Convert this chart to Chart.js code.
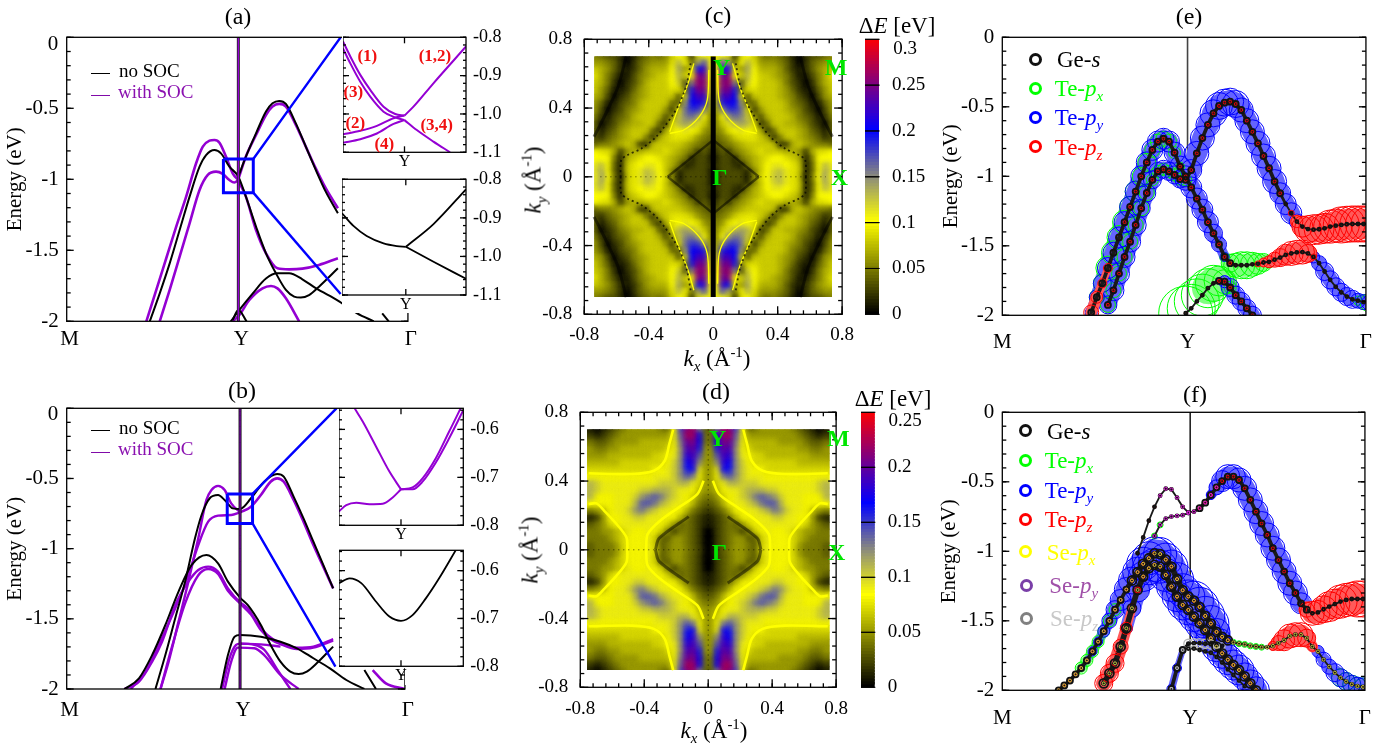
<!DOCTYPE html>
<html>
<head>
<meta charset="utf-8">
<title>Band structures</title>
<script src="https://cdn.jsdelivr.net/npm/chart.js@4/dist/chart.umd.min.js"></script>
<style>
  html, body { margin: 0; padding: 0; background: #fff; overflow: hidden; }
  #page { position: relative; width: 1387px; height: 748px; overflow: hidden; font-family: "Liberation Serif", serif; color: #000; }
  canvas { position: absolute; }
  .txt { position: absolute; white-space: nowrap; line-height: 1; }
  .txt sub, .txt sup { font-size: 65%; line-height: 0; }
  .cover { position: absolute; background: #fff; }
</style>
</head>
<body>
<div id="page"></div>
<script>
// ---------- tick labels ----------
const pathLabels = ["M", "Y", "Γ"];
const energyTicks = [0, -0.5, -1, -1.5, -2];
const aInsetTicks = [-0.8, -0.9, -1.0, -1.1];
const bInsetTicks = [-0.6, -0.7, -0.8];
const kTicks = [-0.8, -0.4, 0, 0.4, 0.8];
const cBarTicks = [0, 0.05, 0.1, 0.15, 0.2, 0.25, 0.3];
const dBarTicks = [0, 0.05, 0.1, 0.15, 0.2, 0.25];

// ---------- panel (a): [k, E], M=0, Y=1 ----------
const aNoSocUpper = [[.484,-2],[.542,-1.803],[.6,-1.592],[.658,-1.357],[.716,-1.122],[.774,-.911],[.812,-.829],[.861,-.793],[.899,-.817],[.948,-.911],[1,-.981],[1.044,-1.122],[1.103,-1.333],[1.161,-1.521],[1.219,-1.662],[1.277,-1.779],[1.325,-1.826],[1.364,-1.833],[1.412,-1.815],[1.47,-1.756],[1.58,-1.627]];
const aNoSocPeak = [[1,-.981],[1.044,-.84],[1.103,-.676],[1.161,-.523],[1.199,-.465],[1.238,-.448],[1.277,-.469],[1.335,-.606],[1.393,-.77],[1.451,-.934],[1.509,-1.087],[1.58,-1.239]];
const aNoSocLow = [[.956,-2],[1.006,-1.92],[1.083,-1.805],[1.161,-1.699],[1.228,-1.662],[1.296,-1.662],[1.373,-1.704],[1.451,-1.767],[1.58,-1.854],[1.692,-1.944],[1.789,-2]];
const aNoSocArc = [[.967,-1.99],[1,-1.92],[1.048,-2]];
const aNoSocEnd = [[1.838,-1.944],[1.876,-2]];
const aSocTop = [[.464,-2],[.522,-1.779],[.58,-1.556],[.638,-1.333],[.696,-1.122],[.754,-.887],[.793,-.77],[.832,-.728],[.861,-.723],[.89,-.742],[.928,-.84],[.967,-.958],[1,-1.005]];
const aSocSecond = [[.542,-2],[.6,-1.779],[.658,-1.545],[.716,-1.31],[.774,-1.075],[.822,-.969],[.87,-.946],[.909,-.962],[.948,-1.005],[.977,-1.023],[1,-1.005]];
const aSocPeak = [[1,-1],[1.044,-.84],[1.103,-.688],[1.161,-.547],[1.199,-.488],[1.238,-.469],[1.277,-.488],[1.335,-.617],[1.393,-.77],[1.451,-.923],[1.509,-1.063],[1.58,-1.204]];
const aSocDown = [[1,-1.01],[1.044,-1.122],[1.103,-1.357],[1.161,-1.521],[1.228,-1.627],[1.296,-1.634],[1.373,-1.629],[1.47,-1.603],[1.58,-1.556]];
const aSocLow = [[.967,-2],[1.006,-1.955],[1.064,-1.85],[1.141,-1.768],[1.19,-1.751],[1.228,-1.768],[1.277,-1.838],[1.354,-2]];
const aZoomBox = [[.913,-.857],[1.087,-.857],[1.087,-1.094],[.913,-1.094],[.913,-.857]];
const aZoomUp = [[1.087,-.857],[1.596,0]];
const aZoomDown = [[1.087,-1.094],[1.596,-1.808]];
// insets of (a): t=0 at Y
const aInsetS1 = [[-1,-.811],[-.881,-.85],[-.719,-.898],[-.557,-.937],[-.341,-.981],[-.151,-1],[0,-1.004]];
const aInsetS3 = [[-1,-.829],[-.881,-.868],[-.719,-.916],[-.557,-.955],[-.341,-.994],[-.151,-1.009],[0,-1.016]];
const aInsetS2 = [[-1,-1.053],[-.719,-1.044],[-.449,-1.031],[-.178,-1.011],[0,-1.004]];
const aInsetS4 = [[-1,-1.075],[-.719,-1.066],[-.449,-1.051],[-.178,-1.026],[0,-1.016]];
const aInsetS12 = [[0,-1.004],[.146,-.981],[.47,-.92],[1,-.824]];
const aInsetS34 = [[0,-1.016],[.2,-1.042],[.47,-1.072],[.741,-1.1]];
const aInsetN1 = [[-1.06,-.888],[-.87,-.921],[-.65,-.947],[-.37,-.966],[-.15,-.973],[0,-.975]];
const aInsetN2 = [[0,-.975],[.46,-.916],[1,-.826]];
const aInsetN3 = [[0,-.975],[.46,-1.014],[1,-1.058]];

// ---------- panel (b) ----------
const bNoSocUpper = [[.512,-2],[.569,-1.758],[.626,-1.496],[.683,-1.235],[.74,-.926],[.778,-.76],[.825,-.641],[.873,-.618],[.911,-.653],[.958,-.713],[1,-.717],[1.063,-.641],[1.139,-.523],[1.214,-.468],[1.252,-.487],[1.309,-.629],[1.366,-.784],[1.423,-.95],[1.48,-1.116],[1.537,-1.283]];
const bNoSocMid = [[.332,-2],[.417,-1.924],[.493,-1.758],[.569,-1.544],[.645,-1.306],[.721,-1.116],[.806,-1.045],[.873,-1.105],[.93,-1.235],[1,-1.349],[1.044,-1.401],[1.12,-1.544],[1.176,-1.686],[1.233,-1.805],[1.29,-1.876],[1.338,-1.893],[1.385,-1.876],[1.442,-1.817],[1.537,-1.698]];
const bNoSocLow = [[.888,-2],[.93,-1.758],[.968,-1.627],[1,-1.615],[1.12,-1.627],[1.233,-1.663],[1.328,-1.71],[1.423,-1.781],[1.518,-1.853],[1.613,-1.936],[1.717,-2]];
const bNoSocEnd = [[1.717,-1.865],[1.784,-2]];
const bSocTop = [[.541,-2],[.588,-1.805],[.645,-1.52],[.702,-1.235],[.759,-.926],[.806,-.653],[.835,-.582],[.873,-.553],[.911,-.582],[.949,-.677],[1,-.741]];
const bSocPlateau = [[.37,-2],[.455,-1.876],[.531,-1.686],[.626,-1.425],[.702,-1.188],[.759,-.974],[.816,-.808],[.873,-.765],[.949,-.76],[1,-.741]];
const bSocPeak = [[1,-.741],[1.063,-.701],[1.12,-.618],[1.176,-.523],[1.214,-.499],[1.252,-.523],[1.309,-.653],[1.366,-.808],[1.423,-.974],[1.48,-1.128],[1.537,-1.283]];
const bSocMid1 = [[.332,-2],[.417,-1.948],[.493,-1.805],[.55,-1.663],[.626,-1.401],[.702,-1.235],[.759,-1.152],[.816,-1.128],[.873,-1.164],[.93,-1.283],[1,-1.382],[1.044,-1.425],[1.101,-1.532],[1.157,-1.615],[1.233,-1.675],[1.328,-1.705],[1.423,-1.698],[1.537,-1.644]];
const bSocMid2 = [[.541,-2],[.607,-1.7],[.683,-1.39],[.759,-1.19],[.816,-1.145],[.873,-1.18],[.93,-1.3],[1,-1.39],[1.063,-1.47],[1.12,-1.58],[1.176,-1.645],[1.233,-1.68],[1.328,-1.715],[1.423,-1.705],[1.537,-1.655]];
const bSocLow1 = [[.896,-2],[.939,-1.781],[.977,-1.686],[1,-1.677],[1.082,-1.685],[1.139,-1.72],[1.214,-1.86],[1.29,-2]];
const bSocLow2 = [[.911,-2],[.949,-1.805],[.987,-1.705],[1.082,-1.71],[1.139,-1.758],[1.233,-1.9],[1.338,-2]];
const bSocFlat = [[1,-1.677],[1.12,-1.682],[1.233,-1.698]];
const bSocEnd = [[1.765,-1.865],[1.841,-1.96],[1.951,-2]];
const bZoomBox = [[.926,-.61],[1.072,-.61],[1.072,-.82],[.926,-.82],[.926,-.61]];
const bZoomUp = [[1.072,-.61],[1.556,0]];
const bZoomDown = [[1.072,-.82],[1.55,-1.841]];
const bInsetS1 = [[-.745,-.556],[-.612,-.584],[-.399,-.636],[-.186,-.688],[0,-.725]];
const bInsetS2 = [[-.995,-.771],[-.878,-.758],[-.718,-.753],[-.505,-.756],[-.293,-.755],[-.133,-.742],[0,-.725]];
const bInsetS3 = [[0,-.725],[.186,-.721],[.346,-.702],[.559,-.66],[.771,-.605],[.931,-.563],[.97,-.552]];
const bInsetS4 = [[0,-.725],[.186,-.725],[.346,-.709],[.559,-.669],[.771,-.619],[1,-.56]];
const bInsetN = [[-.995,-.626],[-.824,-.616],[-.638,-.626],[-.399,-.665],[-.186,-.696],[0,-.705],[.186,-.693],[.399,-.658],[.612,-.616],[.878,-.5575]];

// ---------- panels (c) and (d): gap in 0.01 eV, first quadrant, top row first ----------
const cKx = [.02,.06,.10,.14,.18,.22,.26,.30,.34,.38,.42,.46,.50,.54,.58,.62,.66,.70,.74];
const cKy = [.70,.66,.62,.58,.54,.50,.46,.42,.38,.34,.30,.26,.22,.18,.14,.10,.06,.02];
const cGap = [
  [9,10,9,1,9,10,8,5,4,5,4,3,1,0,2,3,3,4,5],
  [10,17,13,4,10,13,9,6,6,6,5,4,2,0,2,4,5,6,6],
  [10,22,20,9,6,14,10,7,7,7,6,4,2,1,2,4,6,7,8],
  [10,24,25,10,8,13,10,8,8,7,6,5,3,1,1,3,5,7,9],
  [9,25,26,15,3,12,10,8,8,8,7,5,3,2,0,2,5,7,8],
  [9,24,25,19,5,9,9,8,8,8,7,6,4,2,1,1,4,6,8],
  [8,22,23,20,9,3,8,8,8,8,7,6,5,3,2,0,3,6,7],
  [7,19,21,20,14,4,4,8,8,8,8,7,5,4,3,1,1,4,6],
  [6,14,18,18,16,9,2,6,8,8,8,7,6,5,3,2,0,3,6],
  [5,10,14,16,15,12,6,3,7,8,8,8,7,5,4,3,1,2,5],
  [5,8,11,13,14,13,9,2,4,8,8,7,7,6,5,3,2,0,4],
  [5,6,9,10,11,10,9,7,2,4,8,8,8,7,6,4,3,1,4],
  [4,5,6,8,9,9,9,8,7,2,5,8,8,7,6,5,4,2,3],
  [3,4,5,6,7,8,8,8,8,8,2,2,7,8,7,6,5,5,4],
  [2,4,2,5,6,7,8,9,8,8,8,7,7,6,2,7,9,9,10],
  [1,3,3,1,5,6,7,8,9,10,10,9,8,7,1,5,10,10,10],
  [2,3,3,2,1,5,7,8,10,11,11,10,9,8,1,4,10,13,11],
  [1,3,3,3,3,1,5,8,10,12,13,11,9,8,1,4,10,14,11]
];
const cNodalArc = [[.14,.66],[.163,.544],[.183,.486],[.206,.431],[.251,.36],[.3,.295],[.358,.229],[.445,.165],[.533,.126],[.571,.097],[.575,0]];
const cNodalOuter = [[.54,.70],[.59,.525],[.66,.38],[.708,.29],[.74,.233]];
const cDiamond = [[0,.214],[.283,0]];
const cBlobEdgeRight = [[.12,.66],[.163,.525],[.222,.389],[.27,.262]];
const cBlobEdgeLeft = [[.27,.253],[.183,.272],[.086,.35],[.037,.447],[.027,.622]];
const dGap = [
  [3,13,22,21,15,8,3,4,5,5,5,5,5,4,3,2,1,0,1],
  [4,17,22,22,14,8,5,5,5,5,5,5,5,5,4,3,2,1,2],
  [4,17,21,20,13,8,6,6,6,6,6,5,5,5,5,4,3,3,4],
  [5,16,20,19,12,8,7,6,6,6,6,6,6,6,5,5,4,4,5],
  [5,14,19,18,12,9,8,7,7,6,6,6,6,6,6,6,5,5,5],
  [5,12,18,17,12,10,8,7,7,7,7,7,7,7,6,6,6,6,6],
  [5,9,17,16,12,10,9,8,8,7,7,7,7,7,7,7,7,7,7],
  [5,8,13,14,12,10,9,9,9,8,8,8,8,8,8,8,8,8,8],
  [5,7,9,11,11,10,10,10,9,9,9,9,9,9,9,9,9,10,11],
  [5,6,8,9,9,10,11,11,11,10,10,9,9,9,9,9,9,10,11],
  [4,5,7,8,9,10,11,13,14,13,12,10,9,9,9,8,8,8,11],
  [3,4,6,8,9,9,10,11,13,14,14,11,9,9,9,8,8,8,8],
  [2,3,4,6,8,8,9,9,10,11,13,12,10,9,9,8,6,5,4],
  [1,2,3,4,6,8,8,9,9,9,10,10,9,9,8,8,5,2,1],
  [1,2,3,4,3,5,7,8,9,9,9,9,9,9,8,7,5,4,3],
  [0,2,3,4,4,2,4,7,8,9,8,8,9,7,6,5,5,4,4],
  [0,2,3,4,5,5,3,3,7,9,8,8,8,7,6,5,4,4,4],
  [0,2,3,4,5,5,4,3,7,9,8,8,8,7,5,4,4,4,3]
];
const dRidgeTop = [[.219,.70],[.243,.616],[.272,.518],[.34,.46],[.476,.441],[.748,.445]];
const dRidgeInner = [[.029,.402],[.068,.324],[.184,.247],[.301,.169],[.379,.091],[.388,0]];
const dRidgeOuter = [[.505,0],[.511,.072],[.573,.15],[.65,.227],[.699,.27],[.748,.266]];
const dDiamond = [[.33,0],[.307,.067],[.122,.193]];

// ---------- panels (e) and (f): fat bands on a common k list ----------
const kPath = [.30,.33,.36,.39,.42,.45,.48,.51,.54,.57,.60,.63,.66,.69,.72,.75,.78,.81,.84,.87,.90,.93,.96,.99,1.02,1.05,1.08,1.11,1.14,1.17,1.20,1.23,1.26,1.29,1.32,1.35,1.38,1.41,1.44,1.47,1.50,1.53,1.56,1.59,1.62,1.65,1.68,1.71,1.74,1.77,1.80,1.83,1.86,1.89,1.92,1.95,1.98];

const eA = [-1.98,-1.87,-1.77,-1.66,-1.55,-1.44,-1.33,-1.22,-1.11,-1.00,-.90,-.81,-.75,-.73,-.75,-.83,-.93,-1.00,-1.08,-1.16,-1.24,-1.33,-1.41,-1.49,-1.58,-1.625,-1.64,-1.64,-1.64,-1.633,-1.63,-1.62,-1.615,-1.60,-1.585,-1.565,-1.555,-1.547,-1.545,-1.555,-1.58,-1.625,-1.685,-1.745,-1.795,-1.835,-1.865,-1.885,-1.895,-1.905,-1.91];
const eABlue = [4,5,6,7,7,7,7,7,7,7,7,7,7,7,7,7,7,7,7,7,7,7,6,5,3,1,0,0,0,0,0,0,0,0,0,0,0,1,1,2,4,5,6,6,6,6,6,6,5,5,5];
const eAGreen = [3,5,6,8,8,8,8,7,7,6,6,5,5,5,5,4,3,2,1,1,1,1,1,1,3,6,8,9,9,8,7,6,4,3,2,1,0,0,0,0,0,0,1,1,1,1,1,1,3,5,6];
const eARed = [5,4,3,3,2,2,1,1,1,1,1,1,1,1,1,1,1,1,1,1,1,1,1,1,1,1,1,1,1,1,2,3,4,5,6,7,8,8,8,6,2,1,1,1,1,1,1,1,1,1,1];
const eABlack = [2,2,2,2,2,2,2,2,2,2,2,2,2,2,2,2,2,2,2,2,2,2,2,2,2,2,1,1,1,1,1,1,1,1,1,1,1,1,1,1,1,1,1,1,1,1,1,1,1,1,1];

const eB = [-1.925,-1.82,-1.70,-1.58,-1.47,-1.35,-1.23,-1.12,-1.025,-.965,-.95,-.965,-.99,-1.02,-1.025,-.955,-.835,-.725,-.63,-.547,-.494,-.47,-.463,-.48,-.523,-.6,-.68,-.763,-.854,-.942,-1.038,-1.122,-1.2,-1.266,-1.326,-1.362,-1.38,-1.384,-1.381,-1.374,-1.362,-1.355,-1.35,-1.345,-1.343,-1.343,-1.343,-1.343];
const eBBlue = [6,7,7,7,7,7,6,6,6,6,6,6,6,6,7,7,8,8,8,9,9,9,9,9,8,8,8,8,8,8,8,7,7,7,5,3,1,0,0,0,0,0,0,0,0,0,0,0];
const eBGreen = [5,5,5,5,5,5,5,5,4,4,4,4,4,4,4,1,1,1,1,1,1,1,1,1,1,1,1,1,1,1,1,1,1,1,1,0,0,0,0,0,0,0,0,0,0,0,0,0];
const eBRed = [1,1,1,1,1,1,1,1,1,1,1,1,1,1,1,1,1,1,1,1,1,1,1,1,1,1,1,1,1,1,1,1,1,2,4,7,9,10,10,10,11,11,12,12,12,12,12,12];
const eBBlack = [2,2,2,2,2,2,2,2,2,2,2,2,2,2,2,2,2,2,2,2,2,2,2,2,2,2,2,2,2,2,2,2,1,1,1,1,1,1,1,1,1,1,1,1,1,1,1,1];

const eC = [-1.985,-1.95,-1.90,-1.855,-1.805,-1.77,-1.753,-1.758,-1.80,-1.855,-1.90,-1.95,-2.0];
const eCGreen = [18,16,15,14,13,12,10,8,4,2,1,1,1];
const eCBlue = [0,0,0,0,0,1,2,4,6,6,6,6,6];
const eCRed = [1,1,1,1,1,1,1,1,1,1,1,1,1];
const eCBlack = [1,1,1,1,1,1,2,2,2,2,2,2,2];

const fA = [-1.014,-.90,-.78,-.68,-.60,-.55,-.555,-.614,-.68,-.72,-.715,-.69,-.65,-.595,-.54,-.495,-.463,-.463,-.487,-.547,-.63,-.715,-.80,-.882,-.978,-1.063,-1.146,-1.23,-1.30,-1.374,-1.42,-1.446,-1.44,-1.417,-1.398,-1.38,-1.362,-1.35,-1.343,-1.343,-1.343];
const fABlue = [0,0,0,0,0,0,0,0,0,0,0,0,1,3,5,7,8,8,8,8,8,8,8,8,8,8,8,8,8,7,4,1,0,0,0,0,0,0,0,0,0];
const fARed = [1,1,1,1,1,1,1,1,1,1,1,1,1,1,1,1,1,1,1,1,1,1,1,1,1,1,1,1,1,2,5,8,8,9,10,10,11,11,11,12,12];
const fABlack = [1,1,1,1,1,1,1,1,1,1,1,2,2,2,2,2,2,2,2,2,2,2,2,2,2,2,2,2,2,2,2,1,1,1,1,1,1,1,1,1,1];
const fAPurple = [0,0,0,0,1,1,1,1,1,1,1,1,1,1,1,0,0,0,0,0,0,0,0,0,0,0,0,0,0,0,0,0,0,0,0,0,0,0,0,0,0];

const fB = [-.89,-.81,-.765,-.75,-.745,-.74,-.725];
const fBGreen = [2,2,1,0,0,0,0];
const fBPurple = [1,1,1,1,1,1,1];
const fBBlack = [1,1,1,1,1,1,1];

const fC = [-2,-1.965,-1.93,-1.885,-1.84,-1.785,-1.72,-1.65,-1.575,-1.50,-1.42,-1.35,-1.275,-1.21,-1.15,-1.09,-1.05,-1.015,-1.02,-1.06,-1.11,-1.20,-1.28,-1.325,-1.355,-1.40,-1.465,-1.52,-1.58,-1.615,-1.64,-1.655,-1.665,-1.67,-1.68,-1.685,-1.69,-1.69,-1.68,-1.66,-1.64,-1.61,-1.60,-1.60,-1.625,-1.686,-1.72,-1.78,-1.83,-1.873,-1.91,-1.937,-1.957,-1.97,-1.976];
const fCBlue = [1,1,1,1,2,2,3,3,4,5,6,7,8,9,10,11,11,11,11,11,11,11,11,11,13,13,13,12,9,5,2,1,0,0,0,0,0,0,0,0,0,0,0,0,0,2,4,5,5,6,6,6,6,6,6];
const fCGreen = [1,1,1,1,4,4,4,4,4,4,4,1,1,1,1,1,1,1,1,1,1,1,1,1,1,1,1,1,1,1,1,2,2,2,2,2,2,1,1,1,1,1,1,1,1,1,1,1,1,1,6,6,6,6,6];
const fCRed = [1,1,1,1,1,1,1,1,1,1,1,1,1,1,1,1,1,1,1,1,1,1,1,1,1,1,1,1,1,1,1,1,1,1,1,1,1,1,3,5,7,8,8,8,6,3,1,1,1,1,1,1,1,1,1];
const fCYellow = [1,1,1,1,1,1,1,1,1,1,1,1,1,1,1,1,1,1,1,1,1,1,1,1,1,1,1,1,1,1,1,1,1,1,1,1,1,1,1,1,1,1,1,1,1,1,1,1,1,1,1,1,1,1,1];
const fCBlack = [2,2,2,2,2,2,2,2,2,2,2,2,2,3,3,3,3,3,3,3,3,3,3,3,3,3,3,3,3,3,3,1,1,1,1,1,1,1,1,1,1,1,1,1,1,1,1,1,1,1,1,1,1,1,1];

const fD = [-1.95,-1.878,-1.806,-1.686,-1.554,-1.41,-1.278,-1.182,-1.122,-1.098,-1.11,-1.17,-1.254,-1.326,-1.386,-1.422,-1.47,-1.518,-1.566,-1.626,-1.686,-1.734,-1.78,-1.818,-1.854,-1.90,-1.95,-2.0];
const fDBlue = [2,2,2,3,4,6,8,10,11,11,11,11,10,10,10,10,10,10,10,10,10,10,10,10,10,9,9,9];
const fDRed = [6,6,6,5,4,3,2,1,1,1,1,1,1,1,1,1,1,1,1,1,1,1,1,1,1,1,1,1];
const fDYellow = [1,1,1,1,1,1,1,1,1,1,1,1,1,1,1,1,1,1,1,1,1,1,1,1,1,1,1,1];
const fDBlack = [3,3,3,3,3,3,3,3,3,3,3,3,3,3,3,3,3,3,3,3,3,3,3,3,3,3,3,3];

const fE = [-1.99,-1.84,-1.71,-1.665,-1.66,-1.66,-1.665,-1.67,-1.675,-1.68];
const fEBlue = [3,3,2,1,0,0,0,0,0,0];
const fEGray = [1,1,1,3,3,3,3,3,2,2];
const fEBlack = [2,2,2,1,1,1,1,1,1,1];
const fF = [-1.70,-1.70,-1.71,-1.72,-1.73,-1.76,-1.80,-1.85,-1.89,-1.93,-1.97];
const fFGray = [1,1,1,1,1,1,1,1,1,1,1];
const fFBlack = [1,1,1,1,1,1,1,1,1,1,1];

// ---------- styles ----------
const SERIF = "'Liberation Serif', serif";
const BLACK = "#000000";
const VIOLET = "#9400d3";
const BLUE = "#0000ff";
const RED = "#ff0000";
const LIME = "#00ff00";
const WEIGHT_PX = 1.5; // ring radius per unit of orbital weight
const page = document.getElementById("page");

// how each orbital is layered in a fat band; a higher order is drawn first
const orbitalStyle = {
  green: { ring: LIME, ribbon: "#80ff80", from: 3, upTo: 13, width: 1, ringOrder: 28, ribbonOrder: 30 },
  blue: { ring: BLUE, ribbon: "#6464ff", from: 2, upTo: 99, width: 1, ringOrder: 27, ribbonOrder: 29 },
  red: { ring: RED, ribbon: "#ff5a5a", from: 3, upTo: 99, width: 1, ringOrder: 24, ribbonOrder: 26 },
  black: { ring: "#111111", ribbon: "#1a1a1a", from: 1, upTo: 99, width: 1.8, ringOrder: 21, ribbonOrder: 25, ribbonScale: 0.62 },
  yellow: { ring: "#c8c840", width: 1, ringOrder: 20 },
  purple: { ring: "#e020e0", width: 1, ringOrder: 19 },
  gray: { ring: "#b8b8b8", width: 1.3, ringOrder: 22 },
};

function steps(from, to, step) {
  const out = [];
  const n = Math.round((to - from) / step);
  for (let i = 0; i <= n; i++) out.push(from + i * step);
  return out;
}

function pts(list) {
  return list.map((p) => ({ x: p[0], y: p[1] }));
}

// frame and inward ticks, positioned with the chart's own scales
const frameTicks = {
  id: "frameTicks",
  afterDraw(chart, args, o) {
    const { ctx, chartArea: a, scales } = chart;
    ctx.save();
    ctx.strokeStyle = "#000";
    ctx.lineWidth = o.lineWidth || 1.3;
    if (o.frame !== false) ctx.strokeRect(a.left, a.top, a.width, a.height);
    const line = (x1, y1, x2, y2) => {
      ctx.beginPath();
      ctx.moveTo(x1, y1);
      ctx.lineTo(x2, y2);
      ctx.stroke();
    };
    const drawY = (vals, len) => (vals || []).forEach((v) => {
      const p = scales.y.getPixelForValue(v);
      line(a.left, p, a.left + len, p);
      line(a.right, p, a.right - len, p);
    });
    const drawX = (vals, len) => (vals || []).forEach((v) => {
      const p = scales.x.getPixelForValue(v);
      line(p, a.bottom, p, a.bottom - len);
      line(p, a.top, p, a.top + len);
    });
    drawY(o.yMinor, o.minorLen || 4);
    drawY(o.yMajor, o.majorLen || 7);
    drawX(o.xMinor, o.minorLen || 4);
    drawX(o.xMajor, o.majorLen || 7);
    ctx.restore();
  },
};

// soft cells: the heat dataset is drawn sharp, then blurred twice, inside its bounds
const softCells = {
  id: "softCells",
  beforeDatasetDraw(chart, args) {
    const ds = chart.data.datasets[args.index];
    if (!ds.heatBounds) return;
    const { ctx, scales: { x, y } } = chart;
    const b = ds.heatBounds;
    ctx.save();
    ctx.beginPath();
    ctx.rect(x.getPixelForValue(-b[0]), y.getPixelForValue(b[1]), x.getPixelForValue(b[0]) - x.getPixelForValue(-b[0]), y.getPixelForValue(-b[1]) - y.getPixelForValue(b[1]));
    ctx.clip();
    args.meta.controller.draw();
    ctx.filter = "blur(3px)";
    args.meta.controller.draw();
  },
  afterDatasetDraw(chart, args) {
    if (chart.data.datasets[args.index].heatBounds) chart.ctx.restore();
  },
};

function addChart(box, plot, cfg) {
  const [cl, ct, cr, cb] = box;
  const [l, t, r, b] = plot;
  const canvas = document.createElement("canvas");
  canvas.width = cr - cl;
  canvas.height = cb - ct;
  canvas.style.left = cl + "px";
  canvas.style.top = ct + "px";
  page.appendChild(canvas);
  const yRight = cfg.yPosition === "right";
  const xTicks = cfg.xTicks || [];
  const yTicks = cfg.yTicks || [];
  return new Chart(canvas, {
    type: cfg.type || "scatter",
    data: { labels: cfg.labels, datasets: cfg.datasets },
    options: {
      responsive: false,
      animation: false,
      events: [],
      layout: {
        autoPadding: false,
        padding: { top: t - ct, left: yRight ? l - cl : 0, right: yRight ? 0 : cr - r, bottom: 0 },
      },
      plugins: { legend: { display: false }, tooltip: { enabled: false }, frameTicks: cfg.frame || {} },
      scales: {
        x: cfg.xScale || {
          type: "linear",
          min: cfg.xMin,
          max: cfg.xMax,
          grid: { display: false, drawTicks: false },
          border: { display: false },
          afterBuildTicks: (s) => { s.ticks = xTicks.map((value) => ({ value })); },
          afterFit: (s) => { s.height = cb - b; },
          ticks: {
            autoSkip: false,
            maxRotation: 0,
            padding: cfg.xPad === undefined ? 6 : cfg.xPad,
            labelOffset: cfg.xOffset || 0,
            color: BLACK,
            font: { family: SERIF, size: cfg.xSize || 21 },
            callback: cfg.xFormat,
          },
        },
        y: {
          type: "linear",
          position: cfg.yPosition || "left",
          min: cfg.yMin,
          max: cfg.yMax,
          grid: { display: false, drawTicks: false },
          border: { display: false },
          afterBuildTicks: (s) => { s.ticks = yTicks.map((value) => ({ value })); },
          afterFit: (s) => { s.width = yRight ? cr - r : l - cl; },
          title: cfg.yTitle
            ? { display: true, text: cfg.yTitle, color: BLACK, font: { family: SERIF, size: 21 }, padding: { top: 3, bottom: 0 } }
            : { display: false },
          ticks: {
            autoSkip: false,
            padding: cfg.yPad === undefined ? 8 : cfg.yPad,
            color: BLACK,
            font: { family: SERIF, size: cfg.ySize || 21 },
            callback: cfg.yFormat,
          },
        },
      },
    },
    plugins: [frameTicks, softCells],
  });
}

function curve(list, color, width, order, extra) {
  return Object.assign({
    data: pts(list),
    showLine: true,
    borderColor: color,
    backgroundColor: color,
    borderWidth: width,
    pointRadius: 0,
    cubicInterpolationMode: "monotone",
    order: order,
  }, extra || {});
}

// one band: for each orbital a ribbon as wide as its rings, and the rings on top
function fatBand(startK, energies, layers) {
  const from = kPath.indexOf(startK);
  const data = energies.map((e, i) => ({ x: kPath[from + i], y: e }));
  const out = [];
  Object.keys(layers).forEach((name) => {
    const w = layers[name];
    const s = orbitalStyle[name];
    if (s.ribbon) {
      const shown = (i) => w[i] >= s.from && w[i] <= s.upTo;
      out.push({
        data: data,
        showLine: true,
        pointRadius: 0,
        borderColor: s.ribbon,
        borderWidth: 1,
        borderCapStyle: "round",
        order: s.ribbonOrder,
        segment: {
          borderWidth: (c) => Math.max(0.1, (w[c.p0DataIndex] + w[c.p1DataIndex]) * WEIGHT_PX * (s.ribbonScale || 0.85)),
          borderColor: (c) => (shown(c.p0DataIndex) && shown(c.p1DataIndex) ? s.ribbon : "rgba(0,0,0,0)"),
        },
      });
    }
    out.push({
      data: data,
      showLine: false,
      pointStyle: "circle",
      pointRadius: data.map((d, i) => (w[i] || 0) * WEIGHT_PX),
      pointBackgroundColor: "rgba(0,0,0,0)",
      pointBorderColor: s.ring,
      pointBorderWidth: s.width,
      order: s.ringOrder,
    });
  });
  return out;
}

function text(html, x, y, o) {
  o = o || {};
  const el = document.createElement("div");
  el.className = "txt";
  el.innerHTML = html;
  el.style.left = x + "px";
  el.style.top = y + "px";
  el.style.fontSize = (o.size || 21) + "px";
  el.style.color = o.color || BLACK;
  if (o.bold) el.style.fontWeight = "bold";
  const anchor = o.left ? "translate(0,-50%)" : "translate(-50%,-50%)";
  el.style.transform = anchor + (o.rotate ? " rotate(" + o.rotate + "deg)" : "");
  page.appendChild(el);
}

function cover(x, y, w, h) {
  const el = document.createElement("div");
  el.className = "cover";
  el.style.cssText = "left:" + x + "px;top:" + y + "px;width:" + w + "px;height:" + h + "px";
  page.appendChild(el);
}

function swatchLine(x, y, w, color) {
  const el = document.createElement("div");
  el.style.cssText = "position:absolute;left:" + x + "px;top:" + y + "px;width:" + w + "px;height:0;border-top:1.5px solid " + color;
  page.appendChild(el);
}

function swatchRing(x, y, color) {
  const el = document.createElement("div");
  el.style.cssText = "position:absolute;left:" + (x - 6.5) + "px;top:" + (y - 6.5) + "px;width:13px;height:13px;box-sizing:border-box;border-radius:50%;border:3px solid " + color;
  page.appendChild(el);
}

// gap colour map: black, yellow, grey, blue, red
const gapStops = [[0, [0, 0, 0]], [1 / 3, [255, 255, 0]], [1 / 2, [136, 136, 128]], [2 / 3, [0, 0, 255]], [1, [255, 0, 0]]];
function gapColor(f) {
  f = Math.max(0, Math.min(1, f));
  for (let i = 1; i < gapStops.length; i++) {
    if (f <= gapStops[i][0]) {
      const [f0, c0] = gapStops[i - 1];
      const [f1, c1] = gapStops[i];
      const u = (f - f0) / (f1 - f0);
      return "rgb(" + c0.map((c, j) => Math.round(c + (c1[j] - c) * u)).join(",") + ")";
    }
  }
  return "rgb(255,0,0)";
}

function heatData(kx, ky, rows, top) {
  const data = [];
  const colors = [];
  ky.forEach((yv, j) => {
    kx.forEach((xv, i) => {
      [[1, 1], [-1, 1], [1, -1], [-1, -1]].forEach(([sx, sy]) => {
        data.push({ x: sx * xv, y: sy * yv });
        colors.push(gapColor((rows[j][i] * 0.01) / top));
      });
    });
  });
  return { data, colors };
}

function mirrored(list, color, width, dash) {
  return [[1, 1], [-1, 1], [1, -1], [-1, -1]].map(([sx, sy]) =>
    curve(list.map((p) => [sx * p[0], sy * p[1]]), color, width, 2, { borderDash: dash || [], cubicInterpolationMode: "default", tension: 0.3 })
  );
}

function heatPanel(plot, box, rows, kx, ky, top, bounds, xPad, overlays) {
  const h = heatData(kx, ky, rows, top);
  addChart(box, plot, {
    xMin: -0.8, xMax: 0.8, yMin: -0.8, yMax: 0.8,
    xTicks: kTicks, yTicks: kTicks,
    xFormat: (v) => String(v), yFormat: (v) => String(v),
    xSize: 19, ySize: 19, xPad: xPad, yPad: 12,
    frame: { xMajor: kTicks, yMajor: kTicks, xMinor: steps(-0.8, 0.8, 0.08), yMinor: steps(-0.8, 0.8, 0.08), majorLen: 8, minorLen: 4 },
    datasets: [
      {
        data: h.data,
        heatBounds: bounds,
        pointStyle: "rect",
        pointRadius: 5.5,
        pointBorderWidth: 0,
        pointBackgroundColor: h.colors,
        showLine: false,
        order: 10,
      },
    ].concat(overlays),
  });
}

function colorBar(plot, box, ticks, top) {
  const levels = steps(0, top, top / 90);
  addChart(box, plot, {
    type: "bar",
    labels: [""],
    xScale: {
      type: "category",
      grid: { display: false, drawTicks: false },
      border: { display: false },
      ticks: { display: false },
      afterFit: (s) => { s.height = box[3] - plot[3]; },
    },
    yPosition: "right",
    yMin: 0, yMax: top,
    yTicks: ticks,
    yFormat: (v) => (v === top ? "" : String(v)), // top label sits lower, under the bar title
    ySize: 19, yPad: 13,
    frame: { frame: false, yMajor: ticks, majorLen: plot[2] - plot[0], lineWidth: 1 },
    datasets: levels.map((v) => ({
      data: [[v, Math.min(top, v + (top / 90) * 1.6)]],
      backgroundColor: gapColor(v / top),
      grouped: false,
      barPercentage: 1,
      categoryPercentage: 1,
      order: 100 - v / top,
    })),
  });
}

// ---------- band panels ----------
const pathFormat = (names) => (v, i) => names[i];
const energyFormat = (v) => String(v);
const energyFormatNoZero = (v) => (v === 0 ? "" : String(v)); // (a), (b): the 0 sits lower, added as text

// (a)
addChart([0, 0, 420, 370], [66.7, 37.3, 409.3, 321.3], {
  xMin: 0, xMax: 1.988, yMin: -2, yMax: 0,
  xTicks: [0, 1, 1.988], yTicks: energyTicks,
  xFormat: pathFormat(pathLabels), yFormat: energyFormatNoZero, xOffset: 3, xPad: 6,
  yTitle: "Energy (eV)",
  frame: { yMajor: energyTicks, yMinor: steps(-2, 0, 0.1) },
  datasets: [
    curve(aZoomBox, BLUE, 3, 1, { cubicInterpolationMode: "default" }),
    curve(aZoomUp, BLUE, 2.4, 1),
    curve(aZoomDown, BLUE, 2.4, 1),
    curve([[1, 0], [1, -2]], VIOLET, 1.4, 2),
    curve([[1, 0], [1, -2]], "#222222", 3, 3),
    curve(aNoSocUpper, BLACK, 2, 4),
    curve(aNoSocPeak, BLACK, 2, 4),
    curve(aNoSocLow, BLACK, 2, 4),
    curve(aNoSocArc, BLACK, 2, 4),
    curve(aNoSocEnd, BLACK, 2, 4),
    curve(aSocTop, VIOLET, 2.6, 5),
    curve(aSocSecond, VIOLET, 2.6, 5),
    curve(aSocPeak, VIOLET, 2.6, 5),
    curve(aSocDown, VIOLET, 2.6, 5),
    curve(aSocLow, VIOLET, 2.6, 5),
  ],
});
cover(342, 30, 130, 283);
addChart([342.7, 5, 510, 190], [342.7, 37.3, 466, 152.3], {
  xMin: -1, xMax: 1, yMin: -1.1, yMax: -0.8, yPosition: "right",
  xTicks: [0], yTicks: aInsetTicks,
  xFormat: () => "Y", yFormat: (v) => v.toFixed(1),
  xSize: 16, ySize: 18, xPad: 0, yPad: 7,
  frame: { yMajor: aInsetTicks, yMinor: steps(-1.1, -0.8, 0.02), xMajor: [0], majorLen: 6, minorLen: 3 },
  datasets: [aInsetS1, aInsetS3, aInsetS2, aInsetS4, aInsetS12, aInsetS34].map((c) => curve(c, VIOLET, 2, 1)),
});
addChart([341.7, 147, 510, 330], [341.7, 179.3, 466, 295], {
  xMin: -1.06, xMax: 1, yMin: -1.1, yMax: -0.8, yPosition: "right",
  xTicks: [0], yTicks: aInsetTicks,
  xFormat: () => "Y", yFormat: (v) => v.toFixed(1),
  xSize: 16, ySize: 18, xPad: 0, yPad: 7,
  frame: { yMajor: aInsetTicks, yMinor: steps(-1.1, -0.8, 0.02), xMajor: [0], majorLen: 6, minorLen: 3 },
  datasets: [aInsetN1, aInsetN2, aInsetN3].map((c) => curve(c, BLACK, 1.8, 1)),
});

// (b)
addChart([0, 375, 420, 745], [66.7, 408.3, 409.3, 689], {
  xMin: 0, xMax: 1.951, yMin: -2, yMax: 0,
  xTicks: [0, 1, 1.951], yTicks: energyTicks,
  xFormat: pathFormat(pathLabels), yFormat: energyFormatNoZero, xOffset: 3, xPad: 9,
  yTitle: "Energy (eV)",
  frame: { yMajor: energyTicks, yMinor: steps(-2, 0, 0.1) },
  datasets: [
    curve(bZoomBox, BLUE, 3, 1, { cubicInterpolationMode: "default" }),
    curve(bZoomUp, BLUE, 2.4, 1),
    curve(bZoomDown, BLUE, 2.4, 1),
    curve([[1, 0], [1, -2]], VIOLET, 1, 2),
    curve([[1, 0], [1, -2]], "#111111", 3, 3),
    curve(bNoSocUpper, BLACK, 2, 4),
    curve(bNoSocMid, BLACK, 2, 4),
    curve(bNoSocLow, BLACK, 2, 4),
    curve(bNoSocEnd, BLACK, 2, 4),
    curve(bSocTop, VIOLET, 2.4, 5),
    curve(bSocPlateau, VIOLET, 2.4, 5),
    curve(bSocPeak, VIOLET, 2.6, 5),
    curve(bSocMid1, VIOLET, 2.4, 5),
    curve(bSocMid2, VIOLET, 2.4, 5),
    curve(bSocLow1, VIOLET, 2.4, 5),
    curve(bSocLow2, VIOLET, 2.4, 5),
    curve(bSocFlat, VIOLET, 2.4, 5),
    curve(bSocEnd, VIOLET, 2.6, 5),
  ],
});
cover(339, 403, 130, 265);
cover(405, 660, 8, 25);
addChart([339.3, 376, 510, 560], [339.3, 408.3, 464.3, 525.3], {
  xMin: -0.995, xMax: 1, yMin: -0.8, yMax: -0.556, yPosition: "right",
  xTicks: [0], yTicks: bInsetTicks,
  xFormat: () => "Y", yFormat: (v) => v.toFixed(1),
  xSize: 16, ySize: 18, xPad: 0, yPad: 7,
  frame: { yMajor: bInsetTicks, yMinor: steps(-0.8, -0.56, 0.02), xMajor: [0], majorLen: 6, minorLen: 3 },
  datasets: [bInsetS1, bInsetS2, bInsetS3, bInsetS4].map((c) => curve(c, VIOLET, 2, 1)),
});
addChart([339.3, 518, 510, 700], [339.3, 550.3, 464.3, 666.3], {
  xMin: -0.995, xMax: 1, yMin: -0.8, yMax: -0.5575, yPosition: "right",
  xTicks: [0], yTicks: bInsetTicks,
  xFormat: () => "Y", yFormat: (v) => v.toFixed(1),
  xSize: 16, ySize: 18, xPad: 0, yPad: 7,
  frame: { yMajor: bInsetTicks, yMinor: steps(-0.8, -0.56, 0.02), xMajor: [0], majorLen: 6, minorLen: 3 },
  datasets: [curve(bInsetN, BLACK, 1.8, 1)],
});

// (c), (d)
heatPanel([584.3, 39.3, 858.7, 314.3], [515, 4, 863, 372], cGap, cKx, cKy, 0.3, [0.737, 0.7], 9, [
  curve([[0, 0.7], [0, -0.7]], BLACK, 5, 1),
  curve([[-0.7, 0], [0.7, 0]], "rgba(0,0,0,0.7)", 1, 1, { borderDash: [1, 4] }),
  ...mirrored(cNodalArc, "rgba(0,0,0,0.7)", 1.8, [2, 3]),
  ...mirrored(cNodalOuter, "rgba(0,0,0,0.5)", 3),
  ...mirrored(cDiamond, "rgba(0,0,0,0.5)", 2.4),
  ...mirrored(cBlobEdgeRight, "#ffff00", 1.3),
  ...mirrored(cBlobEdgeLeft, "#ffff00", 1.3),
]);
colorBar([865.3, 39.3, 880, 314.3], [865.3, 4, 935, 350], cBarTicks, 0.3);

heatPanel([580.3, 412.3, 855, 687.3], [510, 378, 858, 745], dGap, cKx, cKy, 0.25, [0.758, 0.7], 10, [
  curve([[-0.75, 0], [0.75, 0]], "rgba(0,0,0,0.7)", 1, 1, { borderDash: [1, 4] }),
  curve([[0, 0.7], [0, -0.7]], "rgba(0,0,0,0.7)", 1, 1, { borderDash: [1, 4] }),
  ...mirrored(dRidgeTop, "#ffff00", 2.6),
  ...mirrored(dRidgeInner, "#ffff00", 2.6),
  ...mirrored(dRidgeOuter, "#ffff00", 2.6),
  ...mirrored(dDiamond, "rgba(10,10,0,0.5)", 3),
]);
colorBar([861.3, 412.3, 875.7, 687.3], [861.3, 378, 935, 722], dBarTicks, 0.25);

// (e)
addChart([936, 0, 1387, 370], [1002.3, 37.3, 1373.3, 315.3], {
  xMin: 0, xMax: 1.963, yMin: -2, yMax: 0,
  xTicks: [0, 1, 1.963], yTicks: energyTicks,
  xFormat: pathFormat(pathLabels), yFormat: energyFormat, xPad: 15,
  yTitle: "Energy (eV)",
  frame: { yMajor: energyTicks, yMinor: steps(-2, 0, 0.1) },
  datasets: [
    curve([[1, 0], [1, -2]], "#444444", 1.6, 40),
    ...fatBand(.48, eA, { blue: eABlue, green: eAGreen, red: eARed, black: eABlack }),
    ...fatBand(.57, eB, { blue: eBBlue, green: eBGreen, red: eBRed, black: eBBlack }),
    ...fatBand(.99, eC, { blue: eCBlue, green: eCGreen, red: eCRed, black: eCBlack }),
  ],
});

// (f)
addChart([934, 375, 1387, 745], [1002.3, 412.3, 1374.7, 690.3], {
  xMin: 0, xMax: 1.93, yMin: -2, yMax: 0,
  xTicks: [0, 1, 1.93], yTicks: energyTicks,
  xFormat: pathFormat(pathLabels), yFormat: energyFormat, xPad: 16,
  yTitle: "Energy (eV)",
  frame: { yMajor: energyTicks, yMinor: steps(-2, 0, 0.1) },
  datasets: [
    curve([[1, 0], [1, -2]], "#222222", 1.6, 40),
    ...fatBand(.72, fA, { blue: fABlue, red: fARed, purple: fAPurple, black: fABlack }),
    ...fatBand(.81, fB, { green: fBGreen, purple: fBPurple, black: fBBlack }),
    ...fatBand(.30, fC, { blue: fCBlue, green: fCGreen, red: fCRed, yellow: fCYellow, black: fCBlack }),
    ...fatBand(.54, fD, { blue: fDBlue, red: fDRed, yellow: fDYellow, black: fDBlack }),
    ...fatBand(.90, fE, { blue: fEBlue, gray: fEGray, black: fEBlack }),
    ...fatBand(.99, fF, { gray: fFGray, black: fFBlack }),
  ],
});

// ---------- titles and annotations ----------
text("(a)", 238, 16, { size: 24 });
text("(b)", 242, 390, { size: 24 });
text("(c)", 718, 15, { size: 24 });
text("(d)", 716, 391, { size: 24 });
text("(e)", 1189, 16, { size: 24 });
text("(f)", 1195, 394, { size: 24 });

text("0", 53, 43, { size: 21 });
text("0", 53, 413, { size: 21 });
text("0.3", 905, 47, { size: 19 });
text("0.25", 905, 419, { size: 19 });

swatchLine(91, 72.5, 19, BLACK);
swatchLine(91, 95, 19, "#800aa8");
text("no SOC", 119, 69.5, { left: true, size: 19 });
text("with SOC", 118, 91, { left: true, size: 19, color: "#8a10b0" });
swatchLine(91, 430, 19, BLACK);
swatchLine(91, 452, 19, "#800aa8");
text("no SOC", 119, 426.7, { left: true, size: 19 });
text("with SOC", 118, 447.5, { left: true, size: 19, color: "#8a10b0" });

[["(1)", 367.3, 55], ["(1,2)", 435, 55], ["(3)", 353.3, 90.7], ["(2)", 355.3, 121.7], ["(3,4)", 436.7, 124], ["(4)", 384.3, 143.3]].forEach((t) =>
  text(t[0], t[1], t[2], { size: 17, bold: true, color: "#f01010" })
);

[["Y", 721.7, 66.7], ["M", 836, 66.7], ["Γ", 720, 176.7], ["X", 839.3, 176.7], ["Y", 717.7, 437.7], ["M", 838.3, 437.7], ["Γ", 719.3, 551.7], ["X", 836.7, 551.7]].forEach((t) =>
  text(t[0], t[1], t[2], { size: 24, bold: true, color: "#00e600" })
);

text("Δ<i>E</i> [eV]", 897, 25, { size: 23 });
text("Δ<i>E</i> [eV]", 893, 398, { size: 23 });
text("<i>k<sub>x</sub></i> (Å<sup>-1</sup>)", 717, 358, { size: 23 });
text("<i>k<sub>x</sub></i> (Å<sup>-1</sup>)", 714, 730, { size: 23 });
text("<i>k<sub>y</sub></i> (Å<sup>-1</sup>)", 533, 180, { size: 23, rotate: -90 });
text("<i>k<sub>y</sub></i> (Å<sup>-1</sup>)", 530, 550, { size: 23, rotate: -90 });

[["#111111", BLACK, "Ge-<i>s</i>", 59, 1057], [LIME, LIME, "Te-<i>p<sub>x</sub></i>", 88.3, 1054.7], [BLUE, BLUE, "Te-<i>p<sub>y</sub></i>", 117.3, 1054.7], [RED, RED, "Te-<i>p<sub>z</sub></i>", 146.7, 1054.7]].forEach((t) => {
  swatchRing(1035, t[3], t[0]);
  text(t[2], t[4], t[3], { left: true, size: 23, color: t[1] });
});
[["#111111", BLACK, "Ge-<i>s</i>", 430.7, 1047, 1025], [LIME, LIME, "Te-<i>p<sub>x</sub></i>", 460, 1044.7, 1025], [BLUE, BLUE, "Te-<i>p<sub>y</sub></i>", 490, 1044.7, 1025], [RED, RED, "Te-<i>p<sub>z</sub></i>", 519, 1044.7, 1025], ["#ffff00", "#ffff00", "Se-<i>p<sub>x</sub></i>", 551.7, 1046.7, 1025], ["#7a3fa8", "#a050a8", "Se-<i>p<sub>y</sub></i>", 585, 1049.3, 1026], ["#808080", "#c8c8c8", "Se-<i>p<sub>z</sub></i>", 618.3, 1050, 1026]].forEach((t) => {
  swatchRing(t[5], t[3], t[0]);
  text(t[2], t[4], t[3], { left: true, size: 23, color: t[1] });
});
</script>
</body>
</html>
